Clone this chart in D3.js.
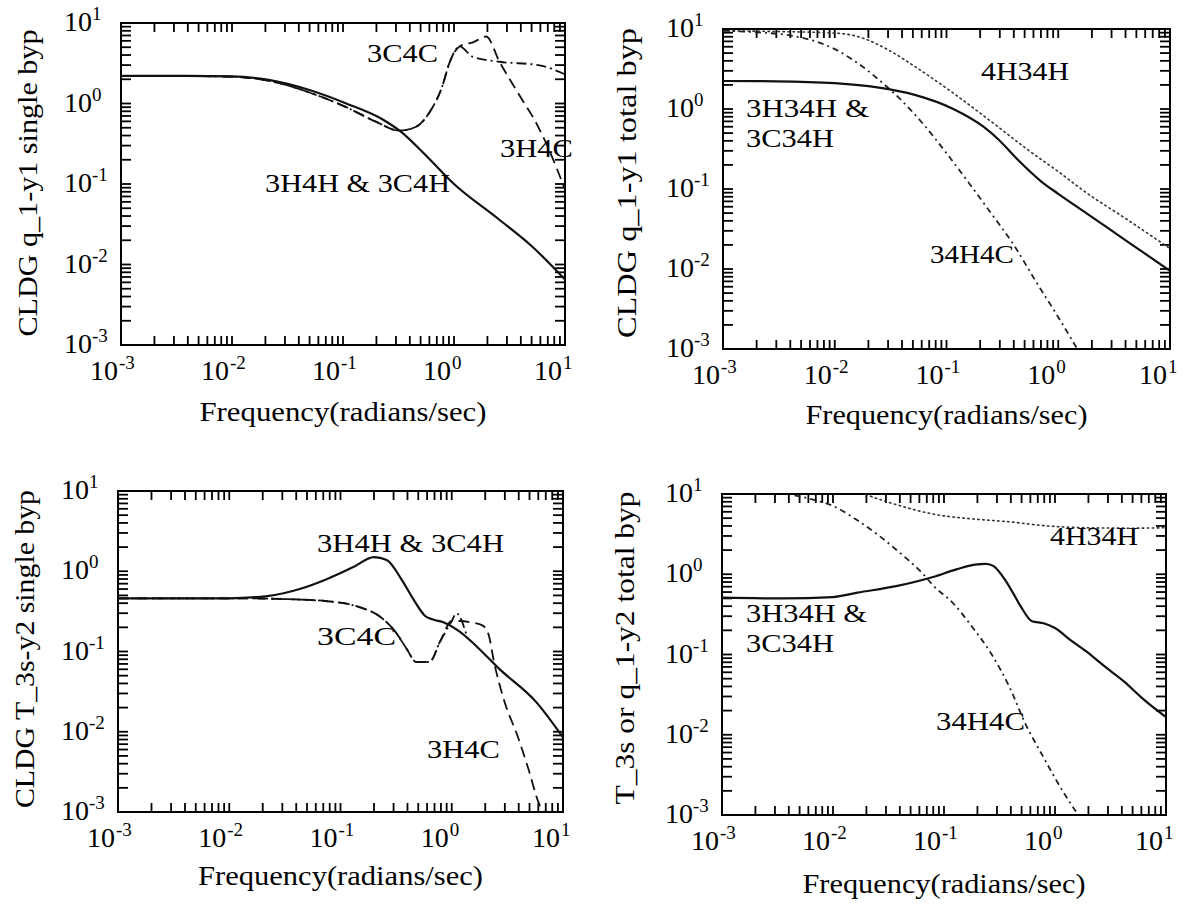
<!DOCTYPE html>
<html><head><meta charset="utf-8">
<script src="https://cdn.jsdelivr.net/npm/d3@7"></script>
</head><body style="margin:0">
<svg id="c" width="1188" height="906"></svg>
<script>
// ---------------- DATA ----------------
const xTitle = "Frequency(radians/sec)";
const decadeExponents = [-3, -2, -1, 0, 1];
const tickVals = [0.001, 0.002, 0.003, 0.004, 0.005, 0.006, 0.007, 0.008, 0.009,
                  0.01, 0.02, 0.03, 0.04, 0.05, 0.06, 0.07, 0.08, 0.09,
                  0.1, 0.2, 0.3, 0.4, 0.5, 0.6, 0.7, 0.8, 0.9,
                  1, 2, 3, 4, 5, 6, 7, 8, 9, 10];

// Panel 1: CLDG q_1-y1 single byp
const p1SolidFreq = [0.001, 0.003, 0.01, 0.022, 0.049, 0.107, 0.234, 0.33, 0.52, 1.0, 2.5, 5.0, 10];
const p1SolidMag  = [2.2, 2.2, 2.17, 1.95, 1.48, 1.0, 0.62, 0.45, 0.25, 0.1, 0.037, 0.017, 0.0065];
const p1H4CFreq = [0.001, 0.003, 0.01, 0.022, 0.049, 0.107, 0.2, 0.32, 0.45, 0.62, 0.78, 0.91, 1.12, 1.5, 1.95, 2.57, 3.8, 5.75, 7.9, 10];
const p1H4CMag  = [2.2, 2.2, 2.15, 1.9, 1.38, 0.9, 0.59, 0.46, 0.51, 0.83, 1.6, 3.2, 5.1, 5.8, 6.8, 3.3, 1.33, 0.51, 0.195, 0.085];
const p1C4CFreq = [0.001, 0.003, 0.01, 0.022, 0.049, 0.107, 0.2, 0.32, 0.45, 0.62, 0.78, 0.91, 1.12, 1.48, 2.57, 5.75, 10];
const p1C4CMag  = [2.2, 2.2, 2.15, 1.9, 1.38, 0.9, 0.59, 0.46, 0.51, 0.83, 1.6, 3.2, 5.1, 3.8, 3.3, 3.0, 2.3];

// Panel 2: CLDG q_1-y1 total byp
const p2SolidFreq = [0.001, 0.003, 0.01, 0.024, 0.052, 0.115, 0.214, 0.295, 0.437, 0.71, 1.0, 1.82, 3.98, 10];
const p2SolidMag  = [2.24, 2.22, 2.1, 1.86, 1.5, 1.0, 0.6, 0.41, 0.23, 0.123, 0.087, 0.049, 0.023, 0.0095];
const p2DotFreq = [0.001, 0.003, 0.01, 0.0158, 0.03, 0.052, 0.115, 0.25, 0.55, 1.0, 1.82, 3.98, 10];
const p2DotMag  = [9.5, 9.3, 8.9, 8.1, 5.5, 3.4, 1.58, 0.7, 0.3, 0.165, 0.088, 0.043, 0.018];
const p2DashDotFreq = [0.001, 0.002, 0.004, 0.0063, 0.01, 0.0158, 0.025, 0.04, 0.063, 0.1, 0.158, 0.25, 0.4, 0.63, 1.0, 1.48];
const p2DashDotMag  = [9.5, 9.1, 8.3, 7.2, 5.6, 3.8, 2.3, 1.26, 0.63, 0.28, 0.12, 0.05, 0.02, 0.007, 0.0025, 0.001];

// Panel 3: CLDG T_3s-y2 single byp
const p3SolidFreq = [0.001, 0.003, 0.01, 0.022, 0.043, 0.074, 0.129, 0.2, 0.26, 0.36, 0.46, 0.58, 0.68, 0.85, 1.17, 1.74, 2.63, 5.75, 10];
const p3SolidMag  = [0.46, 0.46, 0.46, 0.49, 0.6, 0.79, 1.12, 1.5, 1.38, 0.76, 0.43, 0.275, 0.25, 0.23, 0.178, 0.11, 0.062, 0.0234, 0.0085];
const p3H4CFreq = [0.001, 0.003, 0.01, 0.0316, 0.095, 0.15, 0.224, 0.31, 0.39, 0.48, 0.63, 0.79, 1.0, 1.2, 1.5, 1.9, 2.15, 2.4, 3.0, 3.9, 4.9, 6.2, 6.8];
const p3H4CMag  = [0.46, 0.46, 0.46, 0.45, 0.41, 0.355, 0.275, 0.178, 0.11, 0.074, 0.074, 0.135, 0.24, 0.24, 0.23, 0.21, 0.16, 0.074, 0.023, 0.0089, 0.0034, 0.0012, 0.001];
const p3C4CFreq = [0.001, 0.003, 0.01, 0.0316, 0.095, 0.15, 0.224, 0.31, 0.39, 0.48, 0.63, 0.79, 1.0, 1.1, 1.35];
const p3C4CMag  = [0.46, 0.46, 0.46, 0.45, 0.41, 0.355, 0.275, 0.178, 0.11, 0.074, 0.074, 0.135, 0.24, 0.3, 0.165];

// Panel 4: T_3s or q_1-y2 total byp
const p4SolidFreq = [0.001, 0.0035, 0.01, 0.0166, 0.037, 0.081, 0.129, 0.19, 0.24, 0.28, 0.355, 0.417, 0.49, 0.62, 0.79, 1.0, 1.38, 1.9, 2.8, 4.2, 6.2, 10];
const p4SolidMag  = [0.51, 0.5, 0.52, 0.59, 0.71, 0.93, 1.15, 1.32, 1.35, 1.26, 0.85, 0.59, 0.4, 0.26, 0.245, 0.214, 0.151, 0.11, 0.071, 0.046, 0.028, 0.0166];
const p4DotFreq = [0.018, 0.0214, 0.037, 0.081, 0.178, 0.39, 0.85, 1.9, 4.9, 10];
const p4DotMag  = [10.5, 9.5, 7.4, 5.6, 4.9, 4.5, 4.0, 3.8, 3.75, 3.8];
const p4DashDotFreq = [0.0045, 0.0071, 0.01, 0.0166, 0.027, 0.043, 0.063, 0.081, 0.12, 0.178, 0.263, 0.39, 0.54, 0.79, 1.17, 1.62];
const p4DashDotMag  = [9.6, 8.3, 7.1, 4.7, 2.9, 1.7, 1.05, 0.71, 0.44, 0.224, 0.105, 0.039, 0.0138, 0.0052, 0.002, 0.001];

// ---------------- LAYOUT / STYLE ----------------
const styles = {
  solid:   {w: 2.2, dash: null, color: "#111"},
  dashed:  {w: 1.8, dash: "11,6", color: "#111"},
  dashdot: {w: 1.8, dash: "10,4,2,4", color: "#111"},
  dashdot2:{w: 1.8, dash: "6,4,2,4", color: "#222"},
  dotted:  {w: 1.6, dash: "1.5,3.5", color: "#333"}
};

const panels = [
  {frame:{x:121,y:23,w:444,h:322}, ytitle:"CLDG q_1-y1 single byp", yt:{x:37,cy:183,len:307}, xt:{base:421,len:287},
   series:[{f:p1C4CFreq,m:p1C4CMag,s:"dashdot"},{f:p1H4CFreq,m:p1H4CMag,s:"dashed"},{f:p1SolidFreq,m:p1SolidMag,s:"solid"}],
   labels:[{t:"3C4C",dx:246,dy:39,w:71},{t:"3H4C",dx:379,dy:134,w:73},{t:"3H4H & 3C4H",dx:144,dy:169,w:185}]},
  {frame:{x:723,y:29,w:447,h:320}, ytitle:"CLDG q_1-y1 total byp", yt:{x:636,cy:183,len:310}, xt:{base:424,len:282},
   series:[{f:p2DotFreq,m:p2DotMag,s:"dotted"},{f:p2DashDotFreq,m:p2DashDotMag,s:"dashdot2"},{f:p2SolidFreq,m:p2SolidMag,s:"solid"}],
   labels:[{t:"4H34H",dx:258,dy:51,w:88},{t:"3H34H &",dx:23,dy:88,w:123},{t:"3C34H",dx:23,dy:118,w:88},{t:"34H4C",dx:207,dy:234,w:84}]},
  {frame:{x:118,y:491,w:445,h:321}, ytitle:"CLDG T_3s-y2 single byp", yt:{x:34,cy:649,len:318}, xt:{base:885,len:285},
   series:[{f:p3C4CFreq,m:p3C4CMag,s:"dashdot"},{f:p3H4CFreq,m:p3H4CMag,s:"dashed"},{f:p3SolidFreq,m:p3SolidMag,s:"solid"}],
   labels:[{t:"3H4H & 3C4H",dx:199,dy:61,w:187},{t:"3C4C",dx:199,dy:154,w:79},{t:"3H4C",dx:309,dy:267,w:73}]},
  {frame:{x:722,y:494,w:444,h:321}, ytitle:"T_3s or q_1-y2 total byp", yt:{x:634,cy:648,len:313}, xt:{base:893,len:283},
   series:[{f:p4DotFreq,m:p4DotMag,s:"dotted"},{f:p4DashDotFreq,m:p4DashDotMag,s:"dashdot2"},{f:p4SolidFreq,m:p4SolidMag,s:"solid"}],
   labels:[{t:"4H34H",dx:328,dy:51,w:88},{t:"3H34H &",dx:24,dy:128,w:121},{t:"3C34H",dx:24,dy:158,w:88},{t:"34H4C",dx:214,dy:236,w:89}]}
];

// ---------------- DRAW ----------------
const svg = d3.select("#c");

panels.forEach((p, i) => {
  const F = p.frame;
  const x = d3.scaleLog().domain([1e-3, 1e1]).range([F.x, F.x + F.w]);
  const y = d3.scaleLog().domain([1e-3, 1e1]).range([F.y + F.h, F.y]);

  // frame
  svg.append("rect").attr("x", F.x).attr("y", F.y).attr("width", F.w).attr("height", F.h)
    .attr("fill", "none").attr("stroke", "black").attr("stroke-width", 2);

  // inward ticks, all four sides
  const tg = svg.append("g");
  tickVals.forEach(v => {
    const xv = x(v), yv = y(v);
    tg.append("line").attr("x1", xv).attr("x2", xv).attr("y1", F.y + F.h).attr("y2", F.y + F.h - 9)
      .attr("stroke", "black").attr("stroke-width", 1.8);
    tg.append("line").attr("x1", xv).attr("x2", xv).attr("y1", F.y).attr("y2", F.y + 9)
      .attr("stroke", "black").attr("stroke-width", 1.8);
    tg.append("line").attr("y1", yv).attr("y2", yv).attr("x1", F.x).attr("x2", F.x + 10)
      .attr("stroke", "black").attr("stroke-width", 1.8);
    tg.append("line").attr("y1", yv).attr("y2", yv).attr("x1", F.x + F.w).attr("x2", F.x + F.w - 10)
      .attr("stroke", "black").attr("stroke-width", 1.8);
  });

  // curves, clipped to the plot box
  const clipId = "clip" + i;
  svg.append("defs").append("clipPath").attr("id", clipId).append("rect")
    .attr("x", F.x).attr("y", F.y).attr("width", F.w).attr("height", F.h);
  const line = d3.line().x(q => x(q[0])).y(q => y(q[1])).curve(d3.curveMonotoneX);
  const cg = svg.append("g").attr("clip-path", `url(#${clipId})`);
  p.series.forEach(s => {
    const st = styles[s.s];
    const pts = s.f.map((f, j) => [f, s.m[j]]);
    const path = cg.append("path").attr("d", line(pts)).attr("fill", "none")
      .attr("stroke", st.color).attr("stroke-width", st.w)
      .attr("stroke-linecap", s.s === "dotted" ? "round" : "butt")
      .attr("stroke-linejoin", "round");
    if (st.dash) path.attr("stroke-dasharray", st.dash);
  });

  // x tick labels
  decadeExponents.forEach(e => {
    const xv = x(Math.pow(10, e));
    const base = F.y + F.h + 35;
    svg.append("text").attr("x", xv - 3).attr("y", base).attr("text-anchor", "end")
      .attr("font-size", 28).text("10");
    svg.append("text").attr("x", xv - 2).attr("y", base - 11).attr("text-anchor", "start")
      .attr("font-size", 19).text(e);
  });
  // y tick labels
  decadeExponents.forEach(e => {
    const yv = y(Math.pow(10, e));
    const t = svg.append("text").attr("x", F.x - 57).attr("y", yv + 8).attr("font-size", 28);
    t.append("tspan").text("10");
    t.append("tspan").attr("font-size", 19).attr("dy", -11).text(e);
  });

  // axis titles
  svg.append("text").attr("x", F.x + F.w / 2).attr("y", p.xt.base).attr("text-anchor", "middle")
    .attr("font-size", 28)
    .attr("textLength", p.xt.len).attr("lengthAdjust", "spacingAndGlyphs")
    .text(xTitle);
  svg.append("text").attr("transform", `translate(${p.yt.x},${p.yt.cy}) rotate(-90)`)
    .attr("text-anchor", "middle").attr("font-size", 28)
    .attr("textLength", p.yt.len).attr("lengthAdjust", "spacingAndGlyphs")
    .text(p.ytitle);

  // curve labels
  p.labels.forEach(l => {
    svg.append("text").attr("x", F.x + l.dx).attr("y", F.y + l.dy).attr("font-size", 26)
      .attr("textLength", l.w).attr("lengthAdjust", "spacingAndGlyphs").text(l.t);
  });
});
</script>
</body></html>
